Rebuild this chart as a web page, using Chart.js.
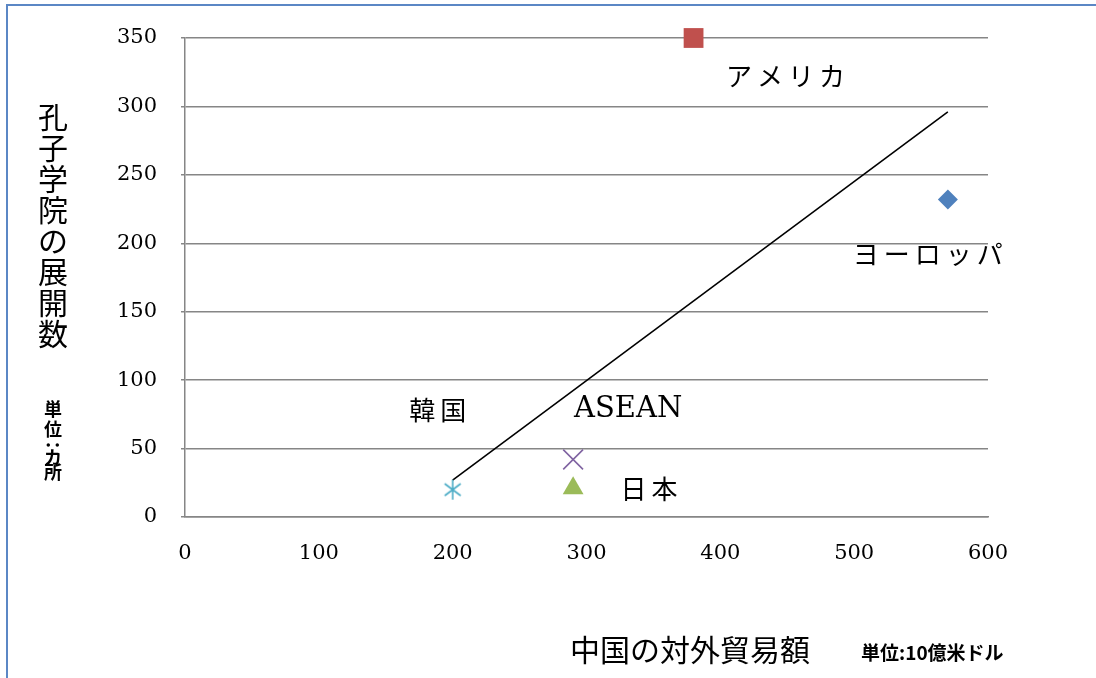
<!DOCTYPE html>
<html>
<head>
<meta charset="utf-8">
<script src="https://cdn.jsdelivr.net/npm/chart.js@4/dist/chart.umd.min.js"></script>
<style>
  html, body { margin: 0; padding: 0; background: #fff; }
  #wrap { position: relative; width: 1096px; height: 678px; }
  #frame { position: absolute; left: 6px; top: 4px; right: 0; bottom: 0;
           border-left: 2px solid #5b87c5; border-top: 2px solid #5b87c5; }
  canvas { position: absolute; left: 0; top: 0; }
</style>
</head>
<body>
<div id="wrap">
  <div id="frame"></div>
  <canvas id="chart" width="1096" height="678"></canvas>
</div>
<script>
// ========== DATA ========== //
const regions    = ["ヨーロッパ", "アメリカ", "日本", "ASEAN", "韓国"];
const trade      = [570, 380, 290, 290, 200];   // 10億米ドル
const institutes = [232, 350, 21, 42, 20];      // カ所
const trendX     = [200, 570];
const trendY     = [27, 296];
const xTicks     = [0, 100, 200, 300, 400, 500, 600];
const yTicks     = [0, 50, 100, 150, 200, 250, 300, 350];

// ========== STYLES ========== //
const colors = ["#4f81bd", "#c0504d", "#9bbb59", "#8064a2", "#4bacc6"];
const serif = "'DejaVu Serif', 'Liberation Serif', serif";
const jp = "'Noto Sans CJK JP', sans-serif";

// asterisk marker like the office "star" (vertical + x)
function starMarker(color) {
  let c = document.createElement("canvas");
  c.width = 24; c.height = 24;
  let g = c.getContext("2d");
  g.strokeStyle = color;
  g.lineWidth = 1.6;
  g.beginPath();
  g.moveTo(12, 2); g.lineTo(12, 22);
  g.moveTo(4, 6);  g.lineTo(20, 18);
  g.moveTo(20, 6); g.lineTo(4, 18);
  g.stroke();
  return c;
}

const markers = [
  { style: "rectRot", r: 10 },
  { style: "rect", r: 14 },
  { style: "triangle", r: 12 },
  { style: "crossRot", r: 14 },
  { style: starMarker(colors[4]), r: 12 }
];

// label offsets from each point, in pixels
const labelOffsets = [[-20, 55], [92, 38], [76, 1], [55, -50], [-15, -80]];

const datasets = regions.map((name, i) => ({
  label: name,
  data: [{ x: trade[i], y: institutes[i] }],
  pointStyle: markers[i].style,
  pointRadius: markers[i].r,
  backgroundColor: colors[i],
  borderColor: colors[i],
  borderWidth: i === 3 ? 1.6 : 0,
  showLine: false,
  clip: false
}));

datasets.push({
  label: "trend",
  data: trendX.map((x, i) => ({ x: x, y: trendY[i] })),
  showLine: true,
  borderColor: "#000",
  borderWidth: 1.6,
  pointRadius: 0
});

// ========== TEXT PLUGIN ========== //
const textPlugin = {
  id: "texts",
  afterDraw(chart) {
    const ctx = chart.ctx;
    const xs = chart.scales.x, ys = chart.scales.y;
    ctx.save();
    ctx.fillStyle = "#000";
    ctx.textAlign = "center";
    ctx.textBaseline = "middle";

    // point labels
    regions.forEach((name, i) => {
      let px = xs.getPixelForValue(trade[i]);
      let py = ys.getPixelForValue(institutes[i]);
      let o = labelOffsets[i];
      if (name === "ASEAN") {
        ctx.font = "29px " + serif;
        ctx.letterSpacing = "0px";
      } else {
        ctx.font = "26px " + jp;
        ctx.letterSpacing = "5px";
      }
      ctx.fillText(name, px + o[0] + (name === "ASEAN" ? 0 : 2.5), py + o[1]);
    });
    ctx.letterSpacing = "0px";

    // y title, vertical
    ctx.font = "30px " + jp;
    Array.from("孔子学院の展開数").forEach((ch, i) => {
      ctx.fillText(ch, 53, 117 + i * 31);
    });
    ctx.font = "bold 18px " + jp;
    const unitY = [["単", 409], ["位", 429], ["：", 445], ["カ", 457], ["所", 472]];
    unitY.forEach(([ch, y]) => {
      if (ch === "：") {
        ctx.save();
        ctx.translate(53, y);
        ctx.rotate(Math.PI / 2);
        ctx.fillText(ch, 0, 0);
        ctx.restore();
      } else {
        ctx.fillText(ch, 53, y);
      }
    });

    // x title
    ctx.textAlign = "left";
    ctx.font = "30px " + jp;
    ctx.fillText("中国の対外貿易額", 570, 650);
    ctx.font = "bold 19px " + jp;
    ctx.fillText("単位:10億米ドル", 861, 653);
    ctx.restore();
  }
};

// ========== CHART ========== //
new Chart(document.getElementById("chart"), {
  type: "scatter",
  data: { datasets: datasets },
  plugins: [textPlugin],
  options: {
    responsive: false,
    animation: false,
    events: [],
    layout: { padding: { left: 0, right: 108, top: 38, bottom: 111 } },
    plugins: { legend: { display: false }, tooltip: { enabled: false } },
    scales: {
      x: {
        type: "linear",
        min: xTicks[0],
        max: xTicks[xTicks.length - 1],
        afterBuildTicks: s => { s.ticks = xTicks.map(v => ({ value: v })); },
        afterFit: s => { s.height = 50; },
        grid: { display: false, drawTicks: false },
        border: { display: true, color: "#868686", width: 1.5 },
        ticks: { color: "#000", font: { family: serif, size: 21 }, padding: 24 }
      },
      y: {
        type: "linear",
        min: yTicks[0],
        max: yTicks[yTicks.length - 1],
        afterBuildTicks: s => { s.ticks = yTicks.map(v => ({ value: v })); },
        afterFit: s => { s.width = 185; },
        grid: { color: "#868686", lineWidth: 1.5, tickLength: 4 },
        border: { display: true, color: "#868686", width: 1.5 },
        ticks: { color: "#000", font: { family: serif, size: 21 }, padding: 24 }
      }
    }
  }
});
</script>
</body>
</html>
